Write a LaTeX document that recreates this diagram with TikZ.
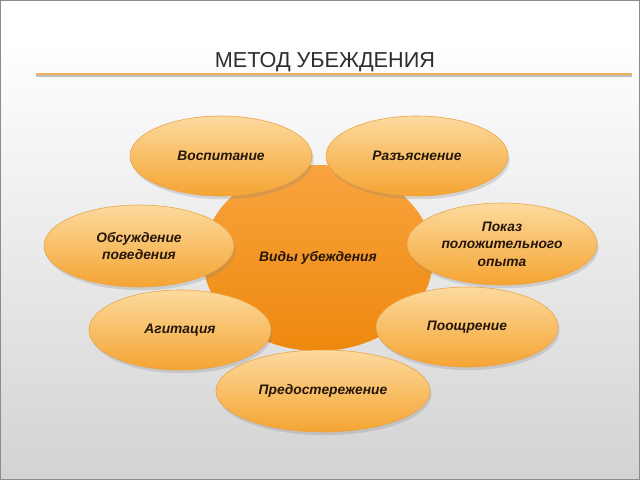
\documentclass[tikz,border=0pt]{standalone}
\usepackage{fontspec}
\setmainfont{Liberation Sans}
\usetikzlibrary{positioning,shapes.geometric,shadows}
\definecolor{bggray}{HTML}{D3D3D3}
\definecolor{framegray}{HTML}{8C8C8C}
\definecolor{rulegold}{HTML}{EDB35C}
\definecolor{titlegray}{HTML}{2E2E2E}
\definecolor{petaltop}{HTML}{FCDA9E}
\definecolor{petalbot}{HTML}{F5A432}
\definecolor{petalrim}{HTML}{E9A244}
\definecolor{coretop}{HTML}{F8A43E}
\definecolor{corebot}{HTML}{EE880E}
\definecolor{txtbrown}{HTML}{24160A}
\tikzset{
  titletext/.style={font=\fontsize{15.4}{18}\selectfont, text=titlegray, inner sep=0pt},
  petal/.style={ellipse, draw=petalrim, line width=0.4pt, top color=petaltop, bottom color=petalbot,
    minimum width=45.5mm, minimum height=20mm, inner sep=0pt, align=center, text=txtbrown,
    font=\bfseries\itshape\fontsize{9.8}{12.5}\selectfont,
    drop shadow={opacity=0.25, shadow xshift=0.4mm, shadow yshift=-0.8mm}},
  widepetal/.style={petal, minimum width=47.5mm, minimum height=20.5mm},
  core/.style={ellipse, top color=coretop, bottom color=corebot, minimum width=57.5mm, minimum height=46.5mm,
    inner sep=0pt, text=txtbrown, font=\bfseries\itshape\fontsize{9.8}{12}\selectfont}
}
\begin{document}
\begin{tikzpicture}[x=0.025cm, y=-0.025cm]
  \useasboundingbox (0,0) rectangle (640,480);
  % slide background
  \fill[white] (0,0) rectangle (640,40);
  \shade[top color=white, bottom color=bggray] (0,40) rectangle (640,480);
  \draw[framegray, line width=0.6pt] (0.5,0.5) rectangle (639.5,479.5);
  % title
  \node[titletext] (title) at (325,62) {МЕТОД УБЕЖДЕНИЯ};
  \coordinate (ruleL) at (36,74);
  \coordinate (ruleR) at (632,74);
  \draw[black!25, line width=1pt] ([yshift=-0.5mm]ruleL) -- ([yshift=-0.5mm]ruleR);
  \draw[rulegold, line width=1.1pt] (ruleL) -- (ruleR);
  % centre
  \node[core] (kinds) at (318,258) {Виды убеждения};
  % petals
  \node[petal] (upbr) at (221,156) {Воспитание};
  \node[petal] (expl) at (417,156) {Разъяснение};
  \node[widepetal] (discuss) at (139,246) {Обсуждение\\поведения};
  \node[widepetal] (example) at (502,244) {Показ\\положительного\\опыта};
  \node[petal] (agit) at (180,330) {Агитация};
  \node[petal] (reward) at (467,327) {Поощрение};
  \node[petal, minimum width=53.5mm, minimum height=20.5mm] (warn) at (323,391) {Предостережение};
\end{tikzpicture}
\end{document}
